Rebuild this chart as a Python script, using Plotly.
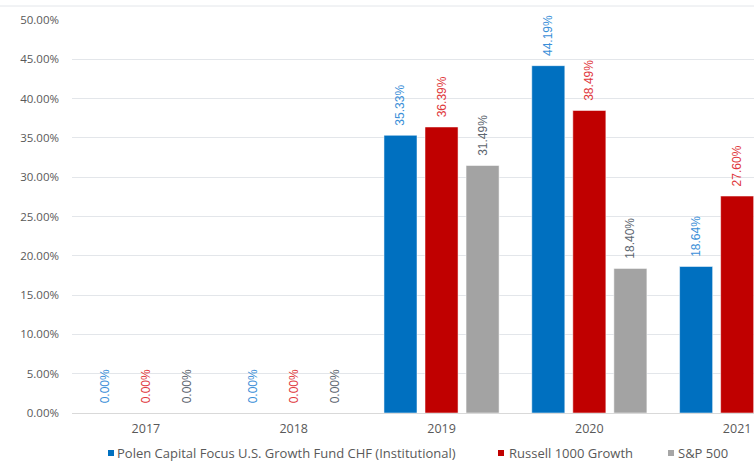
import plotly.graph_objects as go

years = ["2017", "2018", "2019", "2020", "2021"]
polen = [0.00, 0.00, 35.33, 44.19, 18.64]
russell = [0.00, 0.00, 36.39, 38.49, 27.60]
sp500 = [0.00, 0.00, 31.49, 18.40, None]

names = ["Polen Capital Focus U.S. Growth Fund CHF (Institutional)",
         "Russell 1000 Growth", "S&P 500"]
bar_colors = ["#0070C0", "#C00000", "#A3A3A3"]
label_colors = ["#3B8FD8", "#E0383C", "#5D6670"]
legend_square_colors = ["#0070C0", "#C00000", "#A6A6A6"]
series = [polen, russell, sp500]

# plot area geometry (pixels)
L, R, T, B = 72, 754, 20, 413
PW, PH = R - L, B - T


def px_x(px):
    return (px - L) / PW


def px_y(py):
    return (B - py) / PH


fig = go.Figure()
for name, vals, bc, lc in zip(names, series, bar_colors, label_colors):
    labels = ["\u00a0\u00a0" + f"{v:.2f}%" if v is not None else "" for v in vals]
    fig.add_trace(go.Bar(
        x=years, y=vals, name=name, showlegend=False,
        marker=dict(color=bc, line=dict(color="rgba(255,255,255,0.5)", width=1)),
        text=labels, texttemplate="%{text}", textposition="outside", textangle=-90,
        constraintext="none", cliponaxis=False,
        textfont=dict(family="Liberation Sans Narrow, Arial Narrow, Arial", size=12, color=lc),
        hovertemplate="%{x}: %{y:.2f}%<extra>" + name + "</extra>",
    ))

# legend drawn as squares + text (compact like the reference)
legend_sq_x = [108, 498, 668]
legend_txt_x = [115, 507, 676]
legend_y = 453
shapes = [dict(type="line", xref="paper", yref="paper", x0=-0.2, x1=1.0,
               y0=px_y(6), y1=px_y(6), line=dict(color="#E3E6EA", width=1))]
annotations = []
for name, sc, sx, tx in zip(names, legend_square_colors, legend_sq_x, legend_txt_x):
    shapes.append(dict(type="rect", xref="paper", yref="paper",
                       x0=px_x(sx), x1=px_x(sx + 6), y0=px_y(legend_y + 3), y1=px_y(legend_y - 3),
                       fillcolor=sc, line=dict(width=0)))
    annotations.append(dict(text=name, xref="paper", yref="paper", x=px_x(tx), y=px_y(legend_y),
                            xanchor="left", yanchor="middle", showarrow=False,
                            font=dict(size=13, color="#595959")))

fig.update_layout(
    width=754, height=461,
    margin=dict(l=L, r=754 - R, t=T, b=461 - B, autoexpand=False),
    paper_bgcolor="white", plot_bgcolor="white",
    barmode="group", bargap=0.167, bargroupgap=0.195,
    font=dict(family="Open Sans, Arial", color="#595959", size=12),
    showlegend=False,
    xaxis=dict(type="category", range=[-0.5, 4.114], showgrid=False,
               showline=True, linecolor="#D9D9D9", linewidth=1,
               ticks="", ticklabelstandoff=4, tickfont=dict(size=12.5, color="#595959")),
    yaxis=dict(range=[0, 50], dtick=5, tickformat=".2f", ticksuffix="%",
               showgrid=True, gridcolor="#E3E6EA", gridwidth=1,
               zeroline=False, showline=False, ticks="",
               ticklabelstandoff=12, tickfont=dict(size=11.5, color="#595959")),
    shapes=shapes,
    annotations=annotations,
)

fig.write_html("out.html", config={"displayModeBar": False},
               post_script="document.body.style.margin='0';document.body.style.overflow='hidden';")
